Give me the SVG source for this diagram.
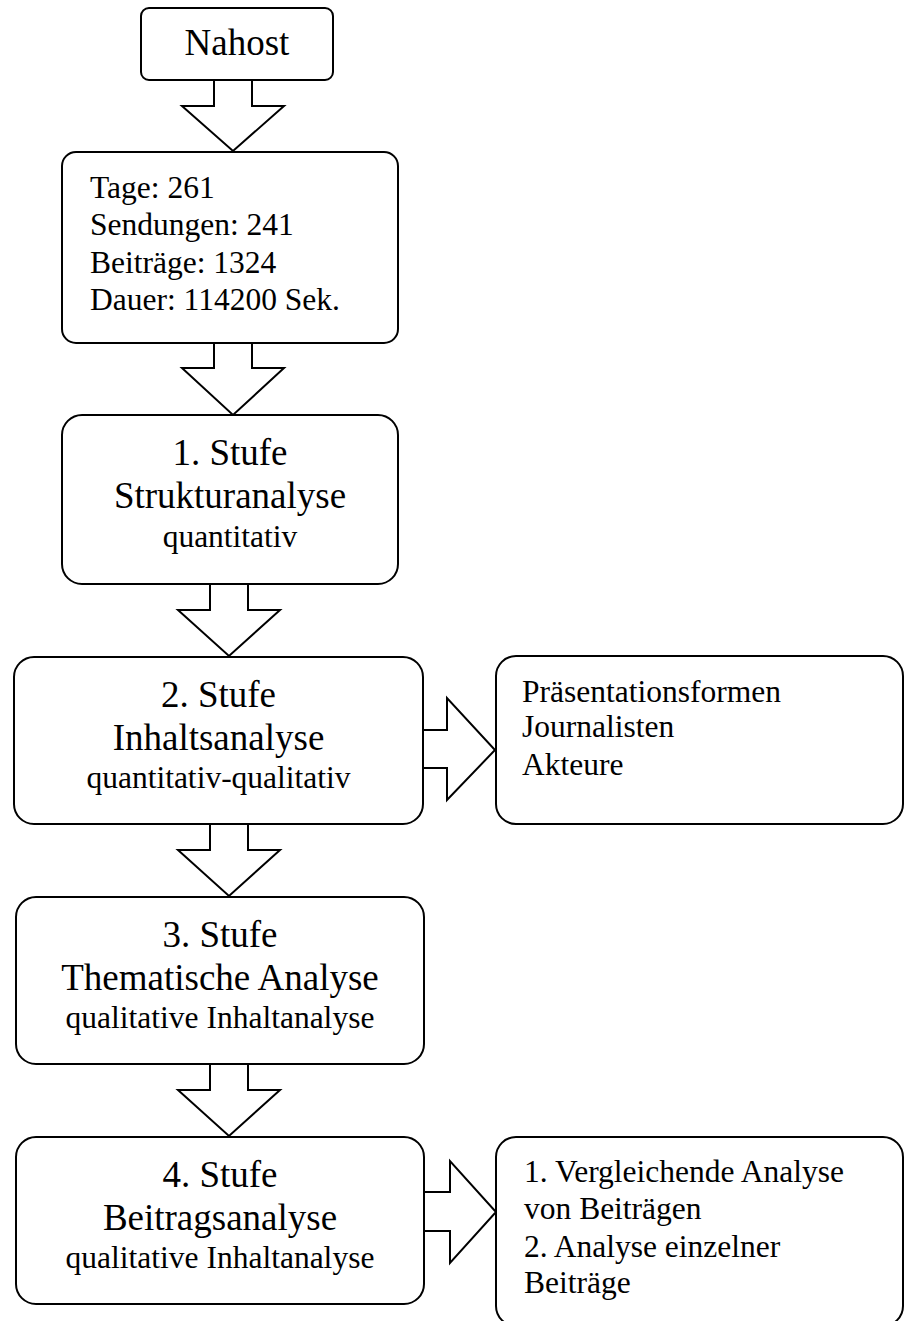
<svg xmlns="http://www.w3.org/2000/svg" width="904" height="1321" viewBox="0 0 904 1321">
<style>
.box{fill:#fff;stroke:#000;stroke-width:2}
.arr{fill:#fff;stroke:#000;stroke-width:2;stroke-linejoin:miter}
text{font-family:"Liberation Serif","Times New Roman",serif;fill:#000}
.big{font-size:37px;text-anchor:middle}
.sm{font-size:31.5px;text-anchor:middle}
.lt{font-size:31.5px}
</style>
<rect width="904" height="1321" fill="#fff"/>
<g id="connectors">
<polygon class="arr" points="214,80 214,106 182,106 233,151 284,106 252,106 252,80"/>
<polygon class="arr" points="214,343 214,368 182,368 233,415 284,368 252,368 252,343"/>
<polygon class="arr" points="210,584 210,610 178,610 229,656 280,610 248,610 248,584"/>
<polygon class="arr" points="210,824 210,850 178,850 229,896 280,850 248,850 248,824"/>
<polygon class="arr" points="210,1064 210,1090 178,1090 229,1136 280,1090 248,1090 248,1064"/>
<polygon class="arr" points="423,730 447,730 447,698 495,750 447,800 447,768 423,768"/>
<polygon class="arr" points="424,1192 450,1192 450,1161 496,1212 450,1263 450,1231 424,1231"/>
</g>
<g id="nahost">
<rect class="box" x="141" y="8" width="192" height="72" rx="8"/>
<text class="big" x="237" y="55">Nahost</text>
</g>
<g id="daten">
<rect class="box" x="62" y="152" width="336" height="191" rx="14"/>
<text class="lt" x="90" y="198">Tage: 261</text>
<text class="lt" x="90" y="235">Sendungen: 241</text>
<text class="lt" x="90" y="272.5">Beiträge: 1324</text>
<text class="lt" x="90" y="310">Dauer: 114200 Sek.</text>
</g>
<g id="stufe1">
<rect class="box" x="62" y="415" width="336" height="169" rx="20"/>
<text class="big" x="230" y="465">1. Stufe</text>
<text class="big" x="230" y="508">Strukturanalyse</text>
<text class="sm" x="230" y="546.5">quantitativ</text>
</g>
<g id="stufe2">
<rect class="box" x="14" y="657" width="409" height="167" rx="20"/>
<text class="big" x="218.5" y="706.5">2. Stufe</text>
<text class="big" x="218.5" y="750">Inhaltsanalyse</text>
<text class="sm" x="218.5" y="788">quantitativ-qualitativ</text>
</g>
<g id="stufe2-details">
<rect class="box" x="496" y="656" width="407" height="168" rx="20"/>
<text class="lt" x="522" y="701.5">Präsentationsformen</text>
<text class="lt" x="522" y="737">Journalisten</text>
<text class="lt" x="522" y="775">Akteure</text>
</g>
<g id="stufe3">
<rect class="box" x="16" y="897" width="408" height="167" rx="20"/>
<text class="big" x="220" y="946.5">3. Stufe</text>
<text class="big" x="220" y="990">Thematische Analyse</text>
<text class="sm" x="220" y="1028">qualitative Inhaltanalyse</text>
</g>
<g id="stufe4">
<rect class="box" x="16" y="1137" width="408" height="167" rx="20"/>
<text class="big" x="220" y="1186.5">4. Stufe</text>
<text class="big" x="220" y="1230">Beitragsanalyse</text>
<text class="sm" x="220" y="1268">qualitative Inhaltanalyse</text>
</g>
<g id="stufe4-details">
<rect class="box" x="496" y="1137" width="407" height="189" rx="20"/>
<text class="lt" x="524" y="1181.5">1. Vergleichende Analyse</text>
<text class="lt" x="524" y="1219">von Beiträgen</text>
<text class="lt" x="524" y="1256.5">2. Analyse einzelner</text>
<text class="lt" x="524" y="1293">Beiträge</text>
</g>
</svg>
